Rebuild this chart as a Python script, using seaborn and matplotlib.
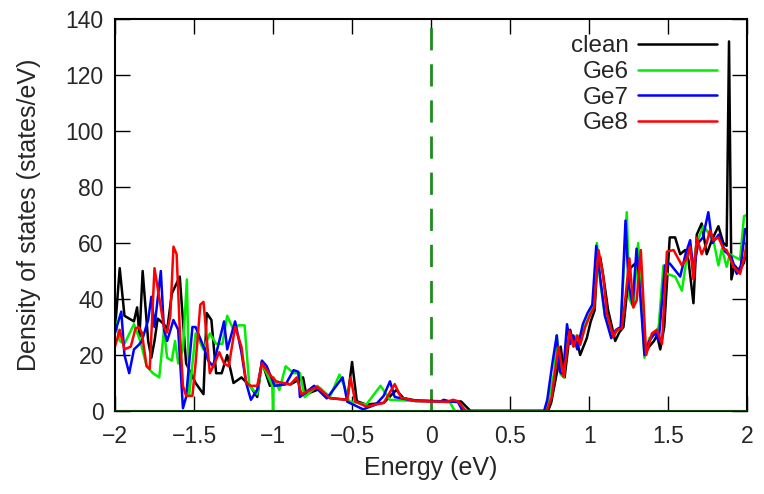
import matplotlib
matplotlib.use("Agg")
import matplotlib.pyplot as plt
import numpy as np
import pandas as pd
import seaborn as sns

# density of states (energy in eV, DOS in states/eV)
clean_e = [-2.0, -1.97, -1.94, -1.88, -1.86, -1.845, -1.825, -1.79, -1.77, -1.75, -1.73, -1.69, -1.67,
           -1.64, -1.59, -1.58, -1.55, -1.49, -1.44, -1.42, -1.39, -1.36, -1.325, -1.29, -1.25, -1.2,
           -1.145, -1.1, -1.07, -1.02, -0.98, -0.89, -0.81, -0.79, -0.7, -0.64, -0.53, -0.5, -0.47,
           -0.41, -0.3, -0.22, -0.175, -0.1, 0.0, 0.1, 0.19, 0.25, 0.74, 0.76, 0.8, 0.82, 0.845, 0.88,
           0.9, 0.92, 0.943, 0.985, 1.01, 1.035, 1.049, 1.07, 1.09, 1.12, 1.165, 1.19, 1.217, 1.235,
           1.26, 1.29, 1.32, 1.34, 1.355, 1.38, 1.41, 1.43, 1.45, 1.475, 1.51, 1.544, 1.576, 1.607,
           1.628, 1.66, 1.681, 1.712, 1.744, 1.776, 1.818, 1.849, 1.87, 1.885, 1.9, 1.92, 1.95, 1.98, 2.0]
clean_dos = [29, 51, 34, 32, 37, 26.5, 50, 25, 19, 25, 33, 31, 29,
             42, 48, 40, 17, 10, 6, 35, 32.5, 13.5, 13.5, 20, 10, 12,
             9, 5, 17.6, 9, 10.5, 9.5, 12, 6, 8, 4.6, 4, 17.5, 3.5,
             2.3, 2.9, 7.5, 4.6, 3.8, 3.6, 3.4, 3.4, 0, 0, 3, 15, 23, 12, 29,
             24, 26, 20, 26, 32, 36, 51, 55, 48, 36, 25, 28, 30, 40,
             51, 52.6, 51, 35, 20.6, 23, 25, 27, 22, 30, 62, 62, 56, 57.5,
             54, 38.5, 63, 67, 56, 61, 66, 60, 59, 132, 47, 52, 50, 53, 60]

ge6_e = [-2.0, -1.97, -1.94, -1.88, -1.84, -1.8, -1.76, -1.72, -1.69, -1.67, -1.64, -1.62, -1.6,
         -1.57, -1.545, -1.53, -1.49, -1.44, -1.4, -1.36, -1.32, -1.29, -1.25, -1.22, -1.18, -1.15,
         -1.1, -1.07, -1.04, -1.005, -1.0, -0.995, -0.96, -0.92, -0.87, -0.83, -0.8, -0.72, -0.64,
         -0.58, -0.55, -0.52, -0.41, -0.32, -0.26, -0.1, 0.0, 0.1, 0.12, 0.15, 0.72, 0.74, 0.78,
         0.795, 0.82, 0.84, 0.865, 0.9, 0.92, 0.94, 0.97, 1.0, 1.03, 1.049, 1.07, 1.1, 1.15, 1.2,
         1.238, 1.255, 1.28, 1.31, 1.33, 1.35, 1.38, 1.42, 1.44, 1.47, 1.492, 1.544, 1.587, 1.628,
         1.66, 1.68, 1.723, 1.75, 1.79, 1.818, 1.84, 1.87, 1.89, 1.955, 1.98, 2.0]
ge6_dos = [33, 25, 24, 31, 25, 16, 13.5, 12, 29, 19, 18, 25, 17,
           22, 47, 5.7, 27.7, 22, 27.7, 24, 24, 34, 29, 30.6, 30.6, 9,
           6, 17, 13.5, 9, 0, 12, 7.5, 16, 13.5, 13.5, 5, 9, 5,
           13, 9, 3.5, 2.3, 9, 4, 3.6, 3.5, 3.2, 3, 0, 0, 3, 14,
           27, 13, 12, 29, 23, 27, 24, 30, 34, 38, 60, 46, 34, 27, 30,
           71, 40, 37, 60, 40, 19, 26, 28, 30, 52, 49, 48, 43, 58.7,
           52, 60, 66, 64, 60, 52, 58, 51.5, 56, 54, 69.6, 70]

ge7_e = [-2.0, -1.96, -1.94, -1.91, -1.88, -1.85, -1.83, -1.79, -1.77, -1.75, -1.71, -1.69, -1.67,
         -1.63, -1.6, -1.57, -1.55, -1.51, -1.49, -1.44, -1.41, -1.38, -1.34, -1.31, -1.29, -1.24,
         -1.2, -1.17, -1.14, -1.1, -1.07, -1.04, -0.99, -0.92, -0.87, -0.84, -0.83, -0.74, -0.66,
         -0.56, -0.53, -0.43, -0.35, -0.3, -0.26, -0.23, -0.1, 0.0, 0.06, 0.08, 0.12, 0.17, 0.2,
         0.715, 0.735, 0.77, 0.795, 0.815, 0.835, 0.86, 0.88, 0.9, 0.925, 0.96, 0.99, 1.02, 1.045,
         1.065, 1.1, 1.14, 1.17, 1.2, 1.23, 1.25, 1.275, 1.3, 1.32, 1.35, 1.38, 1.42, 1.44, 1.48,
         1.51, 1.576, 1.61, 1.639, 1.66, 1.69, 1.72, 1.754, 1.78, 1.82, 1.86, 1.9, 1.934, 1.96,
         1.987, 2.0]
ge7_dos = [28, 35.5, 20, 13.5, 22, 23.6, 25, 32.5, 40.8, 30, 50, 29, 25,
           32.5, 29, 1, 5, 30, 30, 23, 18, 16, 25, 32, 22, 32,
           21, 10, 4, 7.6, 18, 16, 9, 9.5, 14.6, 14, 5, 9, 4.5,
           12, 3.3, 0.6, 2.3, 5.4, 10.6, 5, 3.6, 3.5, 3.4, 4, 3.4, 3.2, 0,
           0, 4, 18, 27, 14, 13, 31, 24, 27, 22, 31, 35, 38, 59,
           50, 34, 26, 29, 30, 68, 45, 38, 58, 44, 20, 25, 28, 25, 52,
           52.7, 48, 56, 61, 50, 60, 62, 71, 60, 63, 57, 55, 49, 52,
           65, 65]

ge8_e = [-2.0, -1.97, -1.94, -1.9, -1.87, -1.85, -1.83, -1.8, -1.78, -1.75, -1.73, -1.69, -1.67,
         -1.65, -1.63, -1.61, -1.59, -1.57, -1.55, -1.51, -1.49, -1.46, -1.44, -1.4, -1.37, -1.34,
         -1.31, -1.28, -1.24, -1.2, -1.17, -1.14, -1.1, -1.07, -1.02, -0.98, -0.89, -0.85, -0.82,
         -0.72, -0.64, -0.53, -0.51, -0.48, -0.41, -0.3, -0.23, -0.19, -0.1, 0.0, 0.1, 0.14, 0.17,
         0.22, 0.732, 0.763, 0.806, 0.838, 0.876, 0.901, 0.926, 0.943, 0.975, 1.006, 1.032, 1.059,
         1.087, 1.112, 1.154, 1.175, 1.207, 1.228, 1.255, 1.28, 1.301, 1.327, 1.361, 1.397, 1.428,
         1.461, 1.492, 1.534, 1.587, 1.618, 1.639, 1.66, 1.681, 1.712, 1.744, 1.765, 1.786, 1.818,
         1.849, 1.87, 1.913, 1.955, 1.987, 2.0]
ge8_dos = [23, 29, 22, 23, 29.5, 30, 28, 16, 15, 51, 44, 30, 28,
           34, 58.7, 56, 29, 9, 5.4, 5.4, 17, 38, 39, 13.5, 17, 21,
           17, 16, 30, 23, 10, 9, 9, 17, 13, 10.5, 9.5, 12, 6,
           8.6, 4.6, 4, 12, 3.4, 1.6, 2.9, 9.6, 4.8, 3.6, 3.4, 3.3, 4, 3.5,
           0, 0, 5, 23, 12.3, 28.5, 23, 27, 23.6, 30, 34.3, 37, 57.5,
           49, 35, 26.5, 29, 29.5, 39.6, 54.5, 37, 39.6, 57.5, 20, 27.7, 29,
           24, 56.9, 57.5, 52, 54.5, 58.7, 47, 62, 56, 60, 64.6, 61, 62,
           58, 57.5, 51.5, 49, 56, 62]

series = ["clean", "Ge6", "Ge7", "Ge8"]
colors = ["black", "#00ee00", "#0000ff", "#ff0000"]
x_ticks = [-2, -1.5, -1, -0.5, 0, 0.5, 1, 1.5, 2]
x_tick_labels = ["\u22122", "\u22121.5", "\u22121", "\u22120.5", "0", "0.5", "1", "1.5", "2"]
y_ticks = [0, 20, 40, 60, 80, 100, 120, 140]

frames = []
for name, e, d in zip(series, [clean_e, ge6_e, ge7_e, ge8_e], [clean_dos, ge6_dos, ge7_dos, ge8_dos]):
    frames.append(pd.DataFrame({"energy": e, "dos": d, "system": name}))
df = pd.concat(frames, ignore_index=True)

sns.set_style("ticks")
plt.rcParams['font.family'] = ["Liberation Sans", "DejaVu Sans"]
plt.rcParams['font.size'] = 16.5

fig = plt.figure(figsize=(7.64, 4.94), dpi=100)
ax = fig.add_axes([0.1505, 0.168, 0.8275, 0.7935])

ax.axvline(0, color="#1c8c1c", lw=2.0, dashes=(8, 5), zorder=1.5)

sns.lineplot(data=df, x="energy", y="dos", hue="system", palette=dict(zip(series, colors)),
             sort=False, estimator=None, linewidth=1.8, ax=ax)

ax.axhline(0, color="#0b5a0b", lw=1.2, zorder=3)

ax.set_xlim(-2, 2)
ax.set_ylim(0, 140)
ax.set_xticks(x_ticks)
ax.set_xticklabels(x_tick_labels)
ax.set_yticks(y_ticks)
ax.tick_params(direction="in", length=10.5, width=1.0, top=True, right=True,
               labelsize=16.5, color="black")
ax.tick_params(axis="x", pad=10)
ax.tick_params(axis="y", pad=8)
for sp in ax.spines.values():
    sp.set_linewidth(1.5)
    sp.set_color("black")

ax.set_xlabel("Energy (eV)", fontsize=18, labelpad=6)
ax.set_ylabel("Density of states (states/eV)", fontsize=18, labelpad=18)

handles, labels = ax.get_legend_handles_labels()
ax.legend(handles, labels, loc="upper right", bbox_to_anchor=(0.953, 0.958),
          markerfirst=False, frameon=False, borderpad=0, borderaxespad=0,
          handlelength=3.25, handletextpad=0.4, labelspacing=0.15, fontsize=17.5)

fig.savefig("out.png", dpi=100)
